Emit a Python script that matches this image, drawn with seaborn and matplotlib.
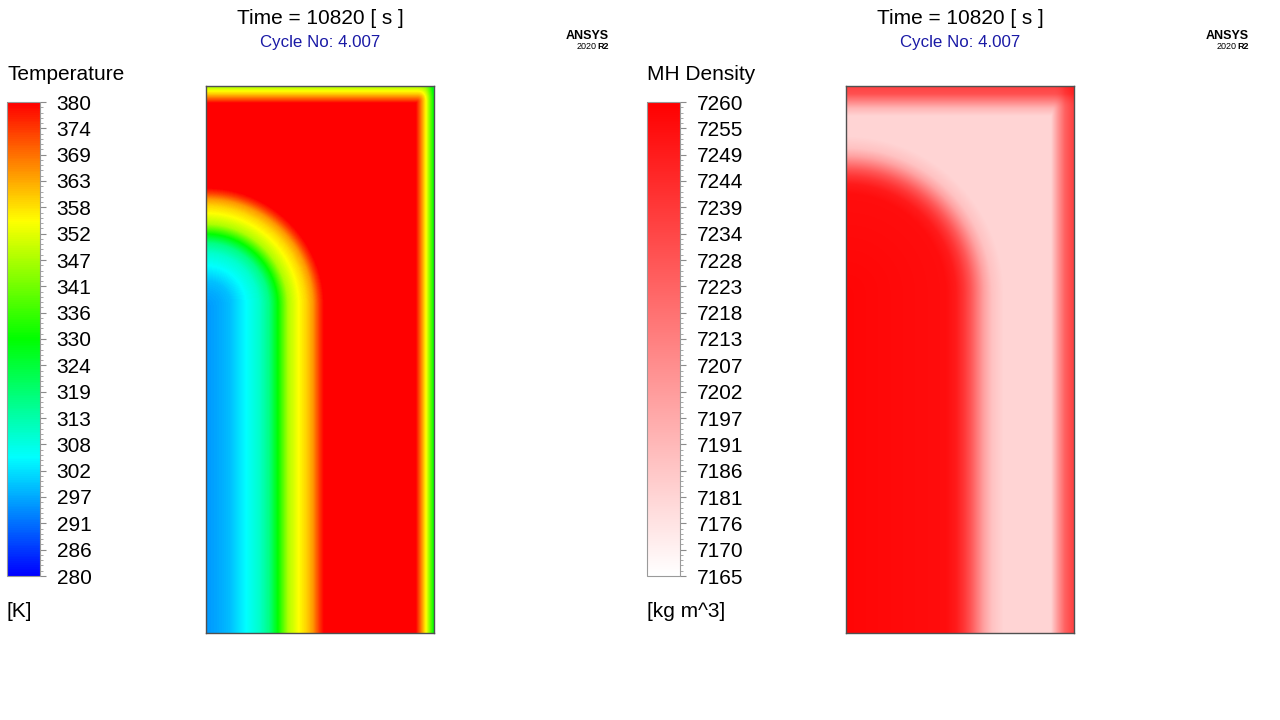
import numpy as np
import matplotlib
matplotlib.use("Agg")
import matplotlib.pyplot as plt
import seaborn as sns
from matplotlib.colors import LinearSegmentedColormap
from matplotlib.ticker import AutoMinorLocator

# ---------------- texts ----------------
time_label = "Time = 10820 [ s ]"
cycle_label = "Cycle No: 4.007"
var_titles = ["Temperature", "MH Density"]
var_units = ["[K]", "[kg m^3]"]

# ---------------- colorbar tick labels (top to bottom) ----------------
temp_ticks = [380, 374, 369, 363, 358, 352, 347, 341, 336, 330,
              324, 319, 313, 308, 302, 297, 291, 286, 280]
dens_ticks = [7260, 7255, 7249, 7244, 7239, 7234, 7228, 7223, 7218, 7213,
              7207, 7202, 7197, 7191, 7186, 7181, 7176, 7170, 7165]

# ---------------- domain (cells across, cells down) ----------------
n_cols = 228
n_rows = 547

# ---------------- temperature profiles ----------------
# distance from the cold core (cells) -> K
temp_core_dist = [0, 15, 25, 40, 53, 63, 72, 82, 93, 100, 107, 113, 118]
temp_core_val = [295, 297, 299, 305, 310, 317, 330, 347, 355, 359, 365, 374, 380]
temp_core_row = 220          # row where the cold core's rounded corner is centred
# distance from the top wall -> K
temp_top_dist = [0, 4, 8, 13, 17]
temp_top_val = [345, 353, 360, 371, 380]
# distance from the right wall -> K
temp_right_dist = [0, 1, 5, 8, 13, 18]
temp_right_val = [328, 332, 345, 355, 368, 380]
temp_base = 380

# ---------------- MH density profiles ----------------
dens_core_dist = [0, 100, 110, 118, 125, 131, 138, 146, 158]
dens_core_val = [7258, 7255, 7250, 7240, 7228, 7215, 7200, 7188, 7181]
dens_core_row = 208
dens_top_dist = [0, 8, 15, 22, 30]
dens_top_val = [7236, 7230, 7212, 7193, 7181]
dens_right_dist = [0, 2, 9, 16, 23]
dens_right_val = [7236, 7234, 7224, 7204, 7181]
dens_base = 7181


def build_field(core_row, cd, cv, td, tv, rd, rv, base):
    xs = np.arange(n_cols) + 0.5
    ys = np.arange(n_rows) + 0.5
    X, Y = np.meshgrid(xs, ys)
    r = np.hypot(X, np.clip(core_row - Y, 0, None))
    dc = np.abs(np.interp(r, cd, cv) - base)
    dt = np.abs(np.interp(Y, td, tv) - base)
    dr = np.abs(np.interp(n_cols - X, rd, rv) - base)
    sign = np.sign(cv[0] - base)
    total = (dc ** 3 + dt ** 3 + dr ** 3) ** (1.0 / 3.0)
    return base + sign * total


temp_field = build_field(temp_core_row, temp_core_dist, temp_core_val,
                         temp_top_dist, temp_top_val,
                         temp_right_dist, temp_right_val, temp_base)
dens_field = build_field(dens_core_row, dens_core_dist, dens_core_val,
                         dens_top_dist, dens_top_val,
                         dens_right_dist, dens_right_val, dens_base)

rainbow = LinearSegmentedColormap.from_list(
    "ansys_rainbow", ["#0000ff", "#00ffff", "#00ff00", "#ffff00", "#ff0000"])
whitered = LinearSegmentedColormap.from_list("white_red", ["#ffffff", "#ff0000"])

sns.set_style("white")
plt.rcParams["font.family"] = ["Liberation Sans", "DejaVu Sans"]

W, H = 1280, 720
fig = plt.figure(figsize=(W / 100, H / 100), dpi=100)
fig.patch.set_facecolor("white")


def px_ax(x0, y0, x1, y1):
    return fig.add_axes([x0 / W, 1 - y1 / H, (x1 - x0) / W, (y1 - y0) / H])


def px_text(x, y, s, **kw):
    fig.text(x / W, 1 - y / H, s, **kw)


panels = [
    (0, temp_field, rainbow, temp_ticks, var_titles[0], var_units[0]),
    (640, dens_field, whitered, dens_ticks, var_titles[1], var_units[1]),
]

for off, field, cmap, ticks, title, unit in panels:
    vmin, vmax = min(ticks), max(ticks)
    ax = px_ax(off + 206, 86, off + 434, 633)
    cax = px_ax(off + 7, 102, off + 40, 576)
    sns.heatmap(field, ax=ax, cmap=cmap, vmin=vmin, vmax=vmax,
                cbar=True, cbar_ax=cax, xticklabels=False, yticklabels=False,
                rasterized=True)
    for s in ax.spines.values():
        s.set_visible(True)
        s.set_color("#505050")
        s.set_linewidth(1.0)

    cbar = ax.collections[0].colorbar
    asc = sorted(ticks)
    cbar.set_ticks(np.linspace(vmin, vmax, len(asc)))
    cbar.set_ticklabels([str(v) for v in asc])
    cbar.ax.yaxis.set_minor_locator(AutoMinorLocator(5))
    cbar.ax.tick_params(axis="y", which="major", length=4, width=0.8,
                        color="#8a8a8a", pad=8, labelsize=15, labelcolor="black")
    cbar.ax.tick_params(axis="y", which="minor", length=2, width=0.6, color="#9a9a9a")
    cbar.outline.set_edgecolor("#9a9a9a")
    cbar.outline.set_linewidth(0.8)

    # header texts
    px_text(off + 320, 24, time_label, ha="center", va="baseline", fontsize=15, color="black")
    px_text(off + 320, 47, cycle_label, ha="center", va="baseline", fontsize=12.2, color="#1a1aa6")
    px_text(off + 609, 39, "ANSYS", ha="right", va="baseline", fontsize=9,
            fontweight="bold", color="black")
    px_text(off + 609, 49, "R2", ha="right", va="baseline", fontsize=6.5,
            fontweight="bold", color="black")
    px_text(off + 597, 49, "2020", ha="right", va="baseline", fontsize=6.5, color="black")
    px_text(off + 7, 80, title, ha="left", va="baseline", fontsize=15, color="black")
    px_text(off + 7, 617, unit, ha="left", va="baseline", fontsize=15, color="black")

fig.savefig("out.png", dpi=100, facecolor="white")
